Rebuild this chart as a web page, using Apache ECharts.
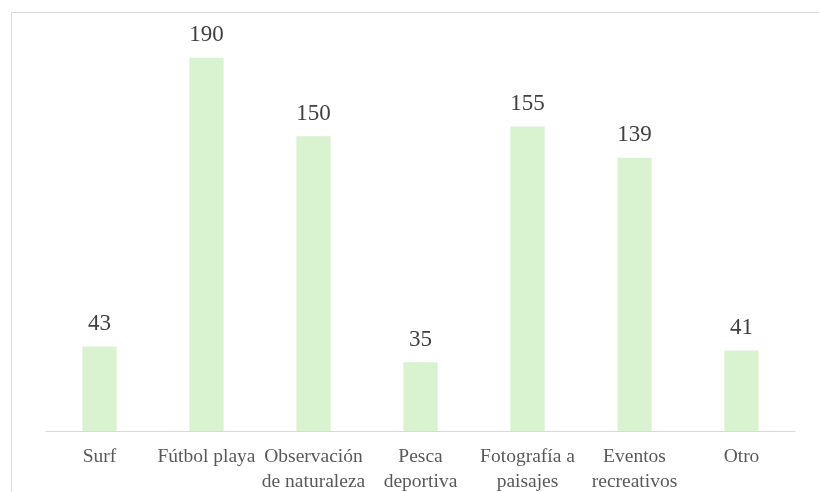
<!DOCTYPE html>
<html>
<head>
<meta charset="utf-8">
<script src="https://cdn.jsdelivr.net/npm/echarts@6/dist/echarts.min.js"></script>
<style>
body{margin:0;background:#fff;}
#chart1{width:819px;height:492px;}
</style>
</head>
<body>
<div id="chart1"></div>
<script>
var categories=['Surf','Fútbol playa','Observación\nde naturaleza','Pesca\ndeportiva','Fotografía a\npaisajes','Eventos\nrecreativos','Otro'];
var values=[43,190,150,35,155,139,41];

function chart1(){
	var myChart = echarts.init(document.getElementById('chart1'));
	var option = {
		animation:false,
		graphic:[{
			type:'rect',
			shape:{x:11.5,y:12.5,width:820,height:500},
			style:{fill:'none',stroke:'#d9d9d9',lineWidth:1}
		}],
		grid:{
			left:46,
			right:24,
			top:38,
			bottom:61,
			outerBoundsMode:'none'
		},
		xAxis:{
			type:'category',
			data:categories,
			axisTick:{show:false},
			axisLine:{
				lineStyle:{color:'#d9d9d9',width:1}
			},
			axisLabel:{
				interval:0,
				margin:13,
				color:'#595959',
				fontFamily:'Liberation Serif',
				fontSize:19.5,
				lineHeight:25
			}
		},
		yAxis:{
			type:'value',
			min:0,
			max:200,
			show:false
		},
		series:[{
			type:'bar',
			data:values,
			barWidth:'32%',
			itemStyle:{color:'#d9f2d0'},
			label:{
				show:true,
				position:'top',
				distance:11,
				color:'#404040',
				fontFamily:'Liberation Serif',
				fontSize:23
			}
		}]
	};
	myChart.setOption(option);
}
chart1();
</script>
</body>
</html>
